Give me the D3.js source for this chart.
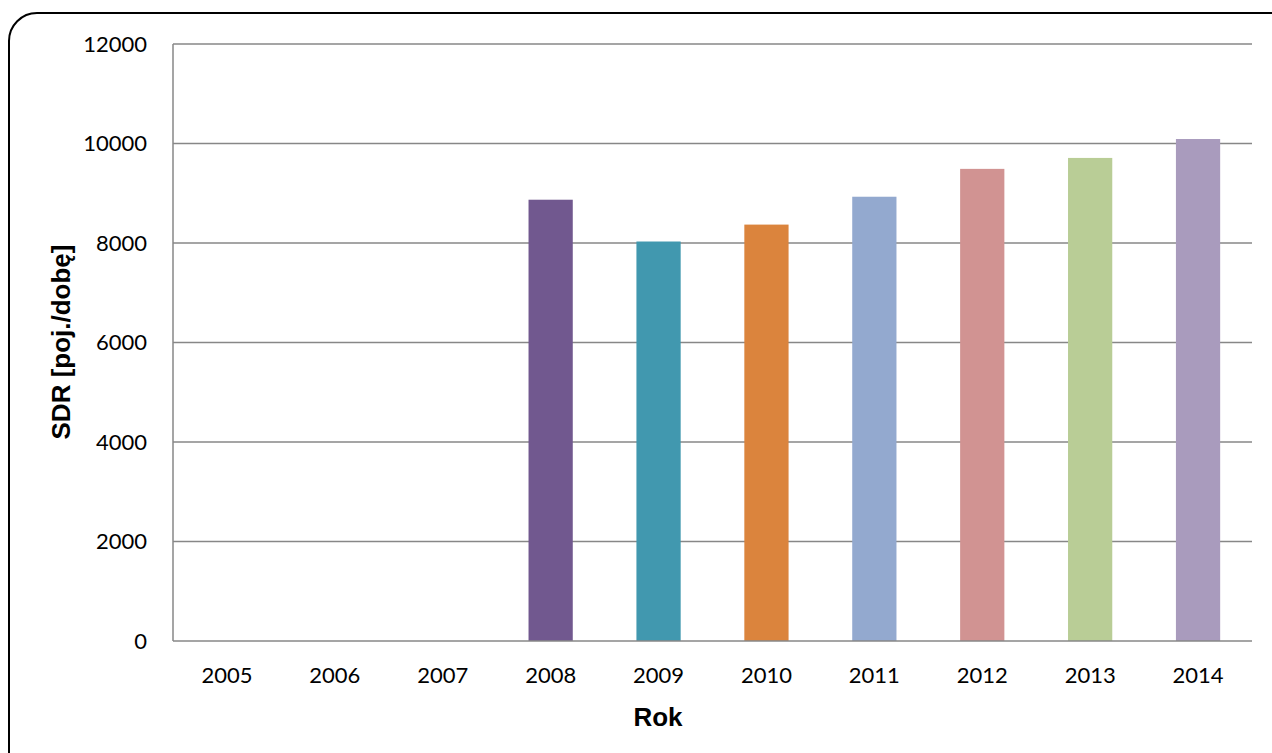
<!DOCTYPE html>
<html>
<head>
<meta charset="utf-8">
<script src="https://cdn.jsdelivr.net/npm/d3@7"></script>
<style>
  html, body { margin: 0; padding: 0; background: #fff; }
  svg { display: block; }
  .tick-label { font-family: Lato, "Open Sans", sans-serif; font-size: 22px; fill: #000; }
  .axis-title { font-family: "Liberation Sans", Arial, sans-serif; font-size: 26px; font-weight: bold; fill: #000; }
</style>
</head>
<body>
<svg id="chart" width="1272" height="753"></svg>
<script>
// SDR per year
const years = ['2005', '2006', '2007', '2008', '2009', '2010', '2011', '2012', '2013', '2014'];
const sdrValues = [0, 0, 0, 8870, 8030, 8370, 8930, 9490, 9710, 10090];
const barColors = ['#4572A7', '#AA4643', '#89A54E', '#71588F', '#4198AF', '#DB843D', '#93A9CF', '#D19392', '#B9CD96', '#A99BBD'];
const yTicks = [0, 2000, 4000, 6000, 8000, 10000, 12000];

const svg = d3.select('#chart');

// Outer rounded frame (runs off the right and bottom edges)
svg.append('rect')
  .attr('x', 9).attr('y', 13)
  .attr('width', 1290).attr('height', 770)
  .attr('rx', 28).attr('ry', 28)
  .attr('fill', 'none')
  .attr('stroke', '#000')
  .attr('stroke-width', 2);

const plot = { left: 173, right: 1252, top: 44, bottom: 641 };

const x = d3.scaleBand()
  .domain(years)
  .range([plot.left, plot.right])
  .paddingInner(0.59)
  .paddingOuter(0.295);

const y = d3.scaleLinear()
  .domain([0, 12000])
  .range([plot.bottom, plot.top]);

// Gridlines
svg.append('g')
  .selectAll('line')
  .data(yTicks.filter(d => d > 0))
  .join('line')
  .attr('x1', plot.left).attr('x2', plot.right)
  .attr('y1', d => y(d)).attr('y2', d => y(d))
  .attr('stroke', '#878787')
  .attr('stroke-width', 1.5);

// Bars
svg.append('g')
  .selectAll('rect')
  .data(years.map((yr, i) => ({ yr, v: sdrValues[i], c: barColors[i] })))
  .join('rect')
  .attr('x', d => x(d.yr))
  .attr('y', d => y(d.v))
  .attr('width', x.bandwidth())
  .attr('height', d => y(0) - y(d.v))
  .attr('fill', d => d.c);

// Axes lines
svg.append('line')
  .attr('x1', plot.left).attr('x2', plot.left)
  .attr('y1', plot.top).attr('y2', plot.bottom)
  .attr('stroke', '#878787').attr('stroke-width', 1.5);
svg.append('line')
  .attr('x1', plot.left).attr('x2', plot.right)
  .attr('y1', plot.bottom).attr('y2', plot.bottom)
  .attr('stroke', '#878787').attr('stroke-width', 1.5);

// Y tick labels
svg.append('g')
  .selectAll('text')
  .data(yTicks)
  .join('text')
  .attr('class', 'tick-label')
  .attr('x', 147)
  .attr('y', d => y(d))
  .attr('dy', '0.35em')
  .attr('text-anchor', 'end')
  .text(d => d);

// X tick labels
svg.append('g')
  .selectAll('text')
  .data(years)
  .join('text')
  .attr('class', 'tick-label')
  .attr('x', d => x(d) + x.bandwidth() / 2)
  .attr('y', 683)
  .attr('text-anchor', 'middle')
  .text(d => d);

// Axis titles
svg.append('text')
  .attr('class', 'axis-title')
  .attr('x', 658).attr('y', 726)
  .attr('text-anchor', 'middle')
  .text('Rok');

svg.append('text')
  .attr('class', 'axis-title')
  .attr('transform', 'translate(70,342) rotate(-90)')
  .attr('text-anchor', 'middle')
  .text('SDR [poj./dobę]');
</script>
</body>
</html>
